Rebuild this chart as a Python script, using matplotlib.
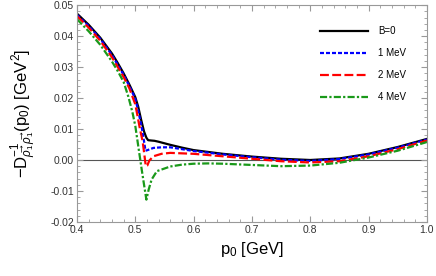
import matplotlib
matplotlib.use("Agg")
import matplotlib.pyplot as plt
from matplotlib.ticker import MultipleLocator

plt.rcParams['font.family'] = ['Liberation Sans', 'DejaVu Sans']
plt.rcParams['mathtext.fontset'] = 'custom'
plt.rcParams['mathtext.rm'] = 'Liberation Sans'
plt.rcParams['mathtext.it'] = 'Liberation Sans:italic'

# values
p_b0 = [0.40, 0.42, 0.44, 0.46, 0.47, 0.48, 0.49, 0.50, 0.505, 0.51, 0.515, 0.519,
        0.522, 0.527, 0.533, 0.54, 0.56, 0.58, 0.60, 0.65, 0.70, 0.75, 0.80, 0.85,
        0.90, 0.95, 1.00]
d_b0 = [0.0473, 0.0437, 0.0395, 0.0344, 0.0313, 0.0280, 0.0243, 0.0203, 0.0172, 0.0130,
        0.0092, 0.0072, 0.0064, 0.0063, 0.0062, 0.0059, 0.0049, 0.0040, 0.0032, 0.0020,
        0.0011, 0.0004, 0.0000, 0.0005, 0.0020, 0.0042, 0.0068]

p_b1 = [0.40, 0.42, 0.44, 0.46, 0.48, 0.49, 0.4995, 0.505, 0.5115, 0.515, 0.5175, 0.521,
        0.531, 0.545, 0.56, 0.60, 0.65, 0.70, 0.75, 0.80, 0.85, 0.90, 0.95, 1.00]
d_b1 = [0.0469, 0.0433, 0.0391, 0.0339, 0.0275, 0.0238, 0.0200, 0.0160, 0.0100, 0.0060,
        0.0030, 0.0032, 0.0039, 0.0041, 0.0041, 0.0029, 0.0018, 0.0009, 0.0001, -0.0003,
        0.0003, 0.0018, 0.0040, 0.0066]

p_b2 = [0.40, 0.42, 0.44, 0.46, 0.48, 0.49, 0.496, 0.50, 0.508, 0.5126, 0.515, 0.518,
        0.5205, 0.524, 0.531, 0.545, 0.56, 0.60, 0.65, 0.70, 0.75, 0.80, 0.85, 0.90,
        0.95, 1.00]
d_b2 = [0.0465, 0.0428, 0.0385, 0.0332, 0.0268, 0.0231, 0.0200, 0.0180, 0.0100, 0.0060,
        0.0025, -0.0020, -0.0018, -0.0002, 0.0012, 0.0020, 0.0023, 0.0020, 0.0012, 0.0004,
        -0.0004, -0.0008, -0.0004, 0.0012, 0.0035, 0.0063]

p_b4 = [0.40, 0.42, 0.44, 0.46, 0.47, 0.48, 0.488, 0.495, 0.50, 0.5035, 0.507, 0.511,
        0.515, 0.519, 0.523, 0.528, 0.537, 0.56, 0.58, 0.60, 0.625, 0.65, 0.70, 0.75,
        0.80, 0.85, 0.90, 0.95, 1.00]
d_b4 = [0.0455, 0.0416, 0.0372, 0.0318, 0.0287, 0.0252, 0.0205, 0.0155, 0.0110, 0.0065,
        0.0020, -0.0031, -0.0080, -0.0128, -0.0095, -0.0063, -0.0036, -0.0021, -0.0015,
        -0.0012, -0.0011, -0.0012, -0.0016, -0.0020, -0.0018, -0.0009, 0.0008, 0.0030,
        0.0058]

labels = ['B=0', '1 MeV', '2 MeV', '4 MeV']

fig = plt.figure(figsize=(4.36, 2.76), dpi=100)
ax = fig.add_axes([0.1766, 0.196, 0.8024, 0.785])

ax.axhline(0, color='#555555', lw=0.8, zorder=1)
ax.plot(p_b0, d_b0, color='black', lw=1.6, label=labels[0])
ax.plot(p_b1, d_b1, color='blue', lw=1.6, ls=(0, (1.8, 0.9)), label=labels[1])
ax.plot(p_b2, d_b2, color='red', lw=1.6, ls=(0, (4.0, 1.5)), label=labels[2])
ax.plot(p_b4, d_b4, color='#1a991a', lw=1.6, ls=(0, (3.2, 1.0, 1.0, 1.0)), label=labels[3])

ax.set_xlim(0.4, 1.0)
ax.set_ylim(-0.02, 0.05)
ax.xaxis.set_major_locator(MultipleLocator(0.1))
ax.xaxis.set_minor_locator(MultipleLocator(0.02))
ax.yaxis.set_major_locator(MultipleLocator(0.01))
ax.yaxis.set_minor_locator(MultipleLocator(0.002))
ax.xaxis.set_major_formatter(plt.FormatStrFormatter('%.1f'))
ax.yaxis.set_major_formatter(plt.FormatStrFormatter('%.2f'))

for s in ax.spines.values():
    s.set_color('#999999')
    s.set_linewidth(0.8)
ax.tick_params(which='both', direction='in', top=True, right=True, color='#999999',
               labelsize=7.5, labelcolor='#333333', pad=2)
ax.tick_params(which='major', length=4)
ax.tick_params(which='minor', length=2)

ax.set_xlabel('p$_0$ [GeV]', fontsize=12, labelpad=4)
ax.set_ylabel(r'$-$D$^{-1}_{\overrightarrow{\rho_1}\,\overrightarrow{\rho_1}}$(p$_0$) [GeV$^2$]',
              fontsize=12, labelpad=8)

ax.legend(loc='upper right', bbox_to_anchor=(0.965, 0.945), frameon=False, fontsize=7,
          handlelength=5, handletextpad=1.0, labelspacing=1.25)

fig.savefig('out.png', dpi=100)
